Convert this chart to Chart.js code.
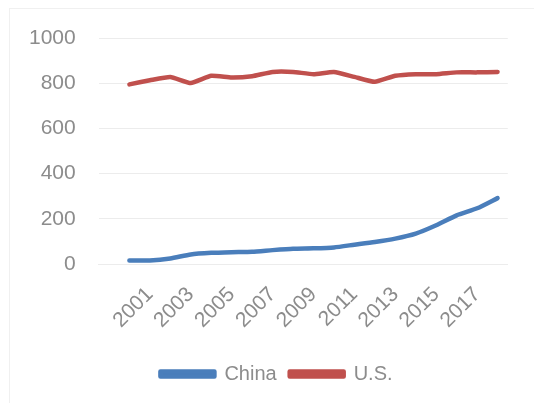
<!DOCTYPE html>
<html>
<head>
<meta charset="utf-8">
<script src="https://cdn.jsdelivr.net/npm/chart.js@4"></script>
<style>
  html, body { margin: 0; padding: 0; background: #fff; overflow: hidden; }
  #frame { position: absolute; left: 9px; top: 8px; width: 600px; height: 500px; border: 1px solid #f0f0f0; }
  #wrap { position: absolute; left: 0; top: 0; width: 534px; height: 403px; }
</style>
</head>
<body>
<div id="frame"></div>
<div id="wrap"><canvas id="myChart"></canvas></div>
<script>
// first category is blank in the source sheet
var years = ['', '2000', '2001', '2002', '2003', '2004', '2005', '2006', '2007', '2008', '2009',
             '2010', '2011', '2012', '2013', '2014', '2015', '2016', '2017', '2018'];
var china = [null, 16, 16, 25, 43, 50, 53, 55, 62, 68, 70, 74, 86, 98, 113, 135, 172, 216, 247, 292];
var us = [null, 795, 813, 828, 801, 833, 825, 831, 850, 850, 840, 850, 828, 806, 833, 840, 840, 848, 848, 850];
var yTicks = [0, 200, 400, 600, 800, 1000];

var grey = '#8c8c8c';
var gridColor = '#ececec';
var font = { family: "'Liberation Sans', Arial, sans-serif", size: 21 };

// legend sits a bit right of centre in the original
var legendShift = {
    id: 'legendShift',
    afterLayout: function (chart) {
        chart.legend.left += 19;
        chart.legend.right += 19;
    }
};

var ctx = document.getElementById('myChart').getContext('2d');
var myChart = new Chart(ctx, {
    type: 'line',
    data: {
        labels: years,
        datasets: [{
            label: 'China',
            data: china,
            borderColor: '#4a7ebb',
            backgroundColor: '#4a7ebb',
            borderWidth: 4.5,
            borderCapStyle: 'round',
            borderJoinStyle: 'round',
            pointRadius: 0,
            tension: 0.2
        }, {
            label: 'U.S.',
            data: us,
            borderColor: '#c0504d',
            backgroundColor: '#c0504d',
            borderWidth: 4.5,
            borderCapStyle: 'round',
            borderJoinStyle: 'round',
            pointRadius: 0,
            tension: 0.15
        }]
    },
    options: {
        responsive: true,
        maintainAspectRatio: false,
        animation: false,
        layout: { padding: { left: 6, right: 25, top: 38, bottom: 9 } },
        scales: {
            x: {
                offset: true,
                grid: { display: false, drawTicks: false },
                border: { color: gridColor },
                ticks: {
                    color: grey,
                    font: font,
                    autoSkip: false,
                    maxRotation: 45,
                    minRotation: 45,
                    padding: 18,
                    callback: function (v, i) { return i % 2 === 0 ? years[i] : ''; }
                }
            },
            y: {
                min: 0,
                max: 1000,
                afterBuildTicks: function (axis) {
                    axis.ticks = yTicks.map(function (v) { return { value: v }; });
                },
                grid: { color: gridColor, drawTicks: false },
                border: { display: false },
                ticks: {
                    color: grey,
                    font: font,
                    padding: 23,
                    callback: function (v) { return String(v); }
                }
            }
        },
        plugins: {
            tooltip: { enabled: false },
            legend: {
                position: 'bottom',
                labels: {
                    color: grey,
                    font: { family: "'Liberation Sans', Arial, sans-serif", size: 20 },
                    boxWidth: 54,
                    boxHeight: 5,
                    padding: 13
                }
            }
        }
    },
    plugins: [legendShift]
});
</script>
</body>
</html>
